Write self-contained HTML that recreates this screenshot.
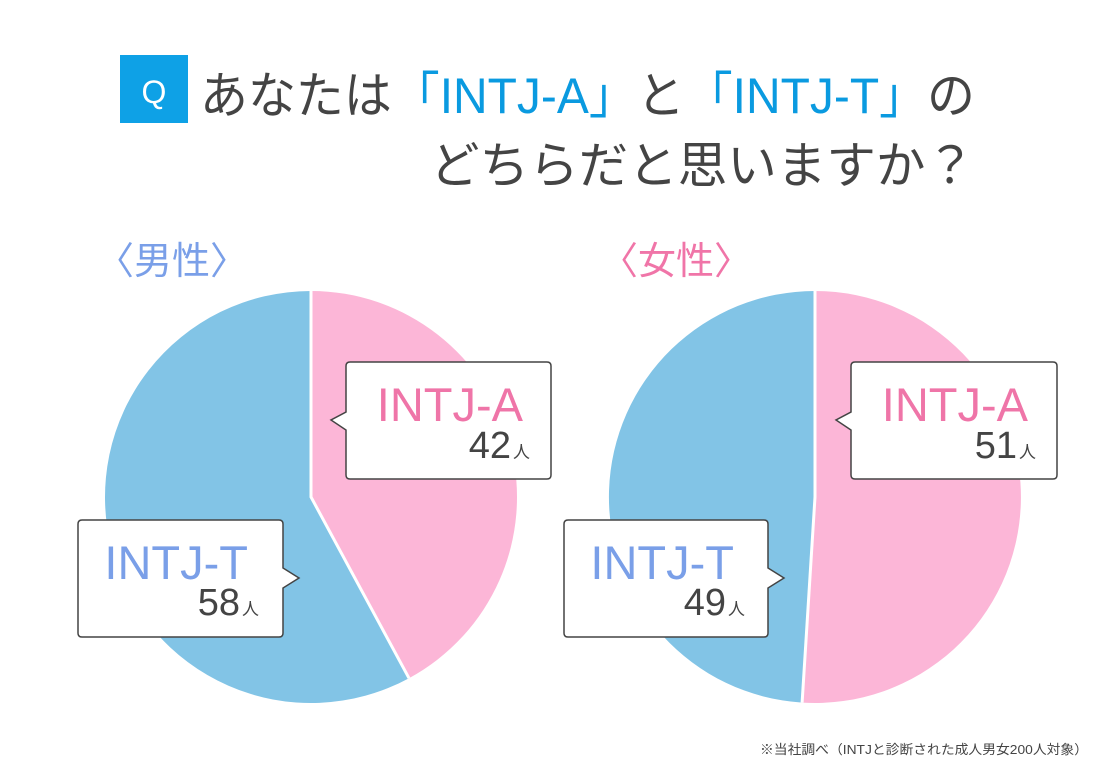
<!DOCTYPE html>
<html><head><meta charset="utf-8"><style>
body{margin:0;width:1100px;height:770px;background:#fff;overflow:hidden;font-family:"Liberation Sans","Noto Sans CJK JP",sans-serif}
</style></head><body>
<svg width="1100" height="770" xmlns="http://www.w3.org/2000/svg" font-family="Liberation Sans, Noto Sans CJK JP, sans-serif">
<rect x="120" y="55" width="68" height="68" fill="#0ea1e6"/>
<text x="154" y="103" font-size="32" fill="#fff" text-anchor="middle">Q</text>
<text x="200" y="113" font-size="50" fill="#444" textLength="775" lengthAdjust="spacingAndGlyphs">あなたは<tspan fill="#0a9ae0">「INTJ-A」</tspan>と<tspan fill="#0a9ae0">「INTJ-T」</tspan>の</text>
<text x="975" y="183" font-size="50" fill="#444" text-anchor="end" textLength="545" lengthAdjust="spacingAndGlyphs">どちらだと思いますか？</text>
<text x="96" y="274" font-size="38" fill="#7a9fe8">〈男性〉</text>
<text x="600" y="274" font-size="38" fill="#f075a8">〈女性〉</text>
<!-- left pie -->
<path d="M311 497 L409 678.2 A206 206 0 1 1 311 291 Z" fill="#82c4e6"/>
<path d="M311 497 L311 291 A206 206 0 0 1 409 678.2 Z" fill="#fcb6d7"/>
<path d="M311 291 L311 497 L409 678.2" stroke="#fff" stroke-width="3" fill="none"/>
<!-- right pie -->
<path d="M815 497 L802.1 702.6 A206 206 0 0 1 815 291 Z" fill="#82c4e6"/>
<path d="M815 497 L815 291 A206 206 0 1 1 802.1 702.6 Z" fill="#fcb6d7"/>
<path d="M815 291 L815 497 L802.1 702.6" stroke="#fff" stroke-width="3" fill="none"/>
<g stroke="#444" stroke-width="1.5" fill="#fff">
<path d="M350 362 H547 Q551 362 551 366 V475 Q551 479 547 479 H350 Q346 479 346 475 V430 L331 420 L346 412 V366 Q346 362 350 362 Z"/>
<path d="M82 520 H279 Q283 520 283 524 V568 L299 578 L283 588 V633 Q283 637 279 637 H82 Q78 637 78 633 V524 Q78 520 82 520 Z"/>
<path d="M855 362 H1053 Q1057 362 1057 366 V475 Q1057 479 1053 479 H855 Q851 479 851 475 V430 L836 420 L851 412 V366 Q851 362 855 362 Z"/>
<path d="M568 520 H764 Q768 520 768 524 V568 L784 578 L768 588 V633 Q768 637 764 637 H568 Q564 637 564 633 V524 Q564 520 568 520 Z"/>
</g>
<g font-size="47">
<text x="523" y="421" fill="#ef75a8" text-anchor="end">INTJ-A</text>
<text x="248" y="579" fill="#7a9fe8" text-anchor="end">INTJ-T</text>
<text x="1028" y="421" fill="#ef75a8" text-anchor="end">INTJ-A</text>
<text x="734" y="579" fill="#7a9fe8" text-anchor="end">INTJ-T</text>
</g>
<g fill="#444">
<text x="530" y="458" text-anchor="end"><tspan font-size="38">42</tspan><tspan font-size="17" dx="2">人</tspan></text>
<text x="259" y="615" text-anchor="end"><tspan font-size="38">58</tspan><tspan font-size="17" dx="2">人</tspan></text>
<text x="1036" y="458" text-anchor="end"><tspan font-size="38">51</tspan><tspan font-size="17" dx="2">人</tspan></text>
<text x="745" y="615" text-anchor="end"><tspan font-size="38">49</tspan><tspan font-size="17" dx="2">人</tspan></text>
</g>
<text x="1088" y="754" font-size="13" fill="#444" text-anchor="end" textLength="328" lengthAdjust="spacingAndGlyphs">※当社調べ（INTJと診断された成人男女200人対象）</text>
</svg>
</body></html>
